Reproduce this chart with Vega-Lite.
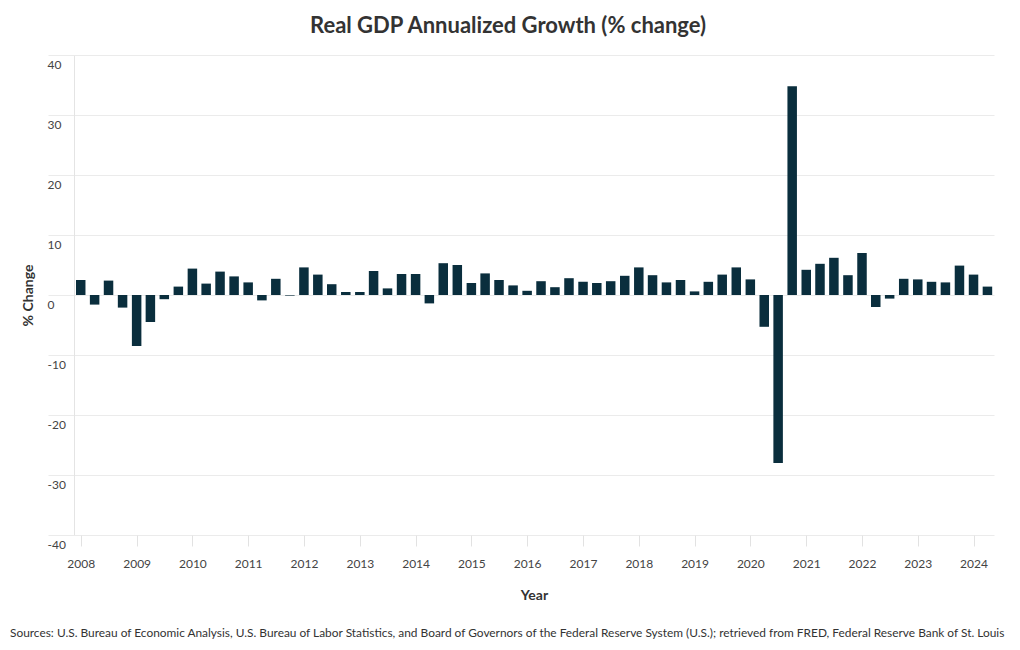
{
  "$schema": "https://vega.github.io/schema/vega-lite/v6.json",
  "padding": {"left": 10, "top": 14, "right": 0, "bottom": 0},
  "background": "white",
  "title": {
    "text": "Real GDP Annualized Growth (% change)",
    "fontSize": 22,
    "fontWeight": "bold",
    "color": "#333333",
    "anchor": "middle",
    "offset": 17
  },
  "vconcat": [
    {
      "width": 920,
      "height": 480,
      "title": {
        "text": "Sources: U.S. Bureau of Economic Analysis, U.S. Bureau of Labor Statistics, and Board of Governors of the Federal Reserve System (U.S.); retrieved from FRED, Federal Reserve Bank of St. Louis",
        "orient": "bottom",
        "anchor": "start",
        "frame": "bounds",
        "dx": -11,
        "offset": 26,
        "fontSize": 11.9,
        "fontWeight": "normal",
        "color": "#333333"
      },
      "data": {
        "values": [
          {"date": "2008-01-01", "value": 2.5},
          {"date": "2008-04-01", "value": -1.6},
          {"date": "2008-07-01", "value": 2.4},
          {"date": "2008-10-01", "value": -2.1},
          {"date": "2009-01-01", "value": -8.5},
          {"date": "2009-04-01", "value": -4.5},
          {"date": "2009-07-01", "value": -0.7},
          {"date": "2009-10-01", "value": 1.4},
          {"date": "2010-01-01", "value": 4.4},
          {"date": "2010-04-01", "value": 1.9},
          {"date": "2010-07-01", "value": 3.9},
          {"date": "2010-10-01", "value": 3.1},
          {"date": "2011-01-01", "value": 2.1},
          {"date": "2011-04-01", "value": -0.9},
          {"date": "2011-07-01", "value": 2.7},
          {"date": "2011-10-01", "value": -0.1},
          {"date": "2012-01-01", "value": 4.6},
          {"date": "2012-04-01", "value": 3.4},
          {"date": "2012-07-01", "value": 1.8},
          {"date": "2012-10-01", "value": 0.5},
          {"date": "2013-01-01", "value": 0.5},
          {"date": "2013-04-01", "value": 4.0},
          {"date": "2013-07-01", "value": 1.1},
          {"date": "2013-10-01", "value": 3.5},
          {"date": "2014-01-01", "value": 3.5},
          {"date": "2014-04-01", "value": -1.4},
          {"date": "2014-07-01", "value": 5.3},
          {"date": "2014-10-01", "value": 5.0},
          {"date": "2015-01-01", "value": 2.0},
          {"date": "2015-04-01", "value": 3.6},
          {"date": "2015-07-01", "value": 2.5},
          {"date": "2015-10-01", "value": 1.6},
          {"date": "2016-01-01", "value": 0.7},
          {"date": "2016-04-01", "value": 2.3},
          {"date": "2016-07-01", "value": 1.3},
          {"date": "2016-10-01", "value": 2.8},
          {"date": "2017-01-01", "value": 2.2},
          {"date": "2017-04-01", "value": 2.0},
          {"date": "2017-07-01", "value": 2.3},
          {"date": "2017-10-01", "value": 3.2},
          {"date": "2018-01-01", "value": 4.6},
          {"date": "2018-04-01", "value": 3.3},
          {"date": "2018-07-01", "value": 2.1},
          {"date": "2018-10-01", "value": 2.5},
          {"date": "2019-01-01", "value": 0.6},
          {"date": "2019-04-01", "value": 2.2},
          {"date": "2019-07-01", "value": 3.4},
          {"date": "2019-10-01", "value": 4.6},
          {"date": "2020-01-01", "value": 2.6},
          {"date": "2020-04-01", "value": -5.3},
          {"date": "2020-07-01", "value": -28.0},
          {"date": "2020-10-01", "value": 34.8},
          {"date": "2021-01-01", "value": 4.2},
          {"date": "2021-04-01", "value": 5.2},
          {"date": "2021-07-01", "value": 6.2},
          {"date": "2021-10-01", "value": 3.3},
          {"date": "2022-01-01", "value": 7.0},
          {"date": "2022-04-01", "value": -2.0},
          {"date": "2022-07-01", "value": -0.6},
          {"date": "2022-10-01", "value": 2.7},
          {"date": "2023-01-01", "value": 2.6},
          {"date": "2023-04-01", "value": 2.2},
          {"date": "2023-07-01", "value": 2.1},
          {"date": "2023-10-01", "value": 4.9},
          {"date": "2024-01-01", "value": 3.4},
          {"date": "2024-04-01", "value": 1.4}
        ]
      },
      "mark": {"type": "bar", "width": 9.5, "color": "#0a2e3d"},
      "encoding": {
        "x": {
          "field": "date",
          "type": "temporal",
          "scale": {
            "type": "utc",
            "padding": 0,
            "domain": [1195344000000, 1715644800000]
          },
          "axis": {
            "title": "Year",
            "format": "%Y",
            "formatType": "utc",
            "tickCount": {"interval": "year", "step": 1},
            "grid": false,
            "domain": false,
            "ticks": true,
            "tickSize": 11,
            "tickColor": "#e2e2e2",
            "labelPadding": 12,
            "labelFontSize": 12,
            "labelColor": "#444444",
            "labelFlush": false,
            "labelOverlap": false,
            "titleFontSize": 14,
            "titleFontWeight": "bold",
            "titleColor": "#333333",
            "titlePadding": 19
          }
        },
        "y": {
          "field": "value",
          "type": "quantitative",
          "scale": {"domain": [-40, 40], "nice": false},
          "axis": {
            "title": "% Change",
            "values": [-40, -30, -20, -10, 0, 10, 20, 30, 40],
            "labelExpr": "toString(datum.value)",
            "grid": true,
            "gridColor": "#ebebeb",
            "domain": true,
            "domainColor": "#e4e4e4",
            "ticks": true,
            "tickSize": 26,
            "tickColor": "#ebebeb",
            "labelAlign": "left",
            "labelBaseline": "top",
            "labelPadding": 1,
            "labelOffset": 4,
            "labelFontSize": 12,
            "labelColor": "#444444",
            "labelFlush": false,
            "titleFontSize": 14,
            "titleFontWeight": "bold",
            "titleColor": "#333333",
            "titlePadding": 12
          }
        }
      }
    }
  ],
  "config": {
    "font": "Lato",
    "view": {"stroke": null}
  }
}
